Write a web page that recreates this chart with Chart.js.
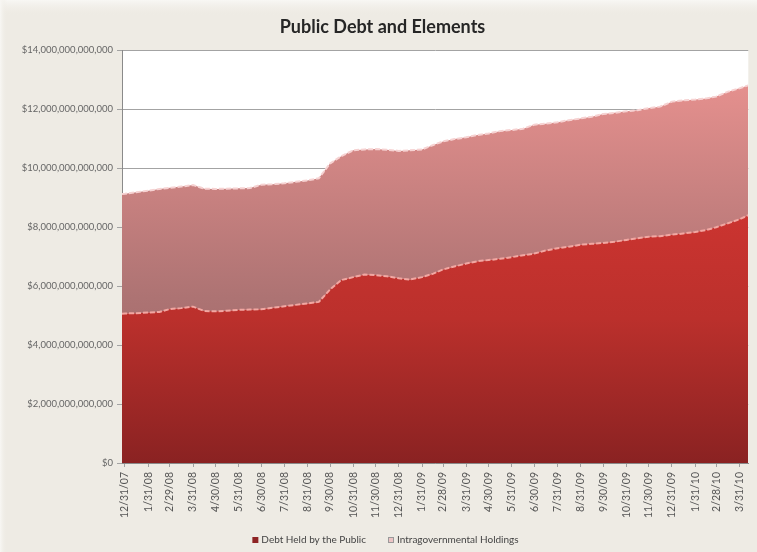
<!DOCTYPE html>
<html>
<head>
<meta charset="utf-8">
<title>Public Debt and Elements</title>
<script src="https://cdn.jsdelivr.net/npm/chart.js@4.4.1/dist/chart.umd.min.js"></script>
<style>
  html, body { margin: 0; padding: 0; background: #eeebe4; }
  canvas { display: block; }
</style>
</head>
<body>
<canvas id="debt" width="757" height="552"></canvas>
<script>
// Observation dates (semi-monthly), values in billions of dollars
const dates = [
  '2007-12-27', '2007-12-31',
  '2008-01-15', '2008-01-31', '2008-02-15', '2008-02-29', '2008-03-15', '2008-03-31',
  '2008-04-15', '2008-04-30', '2008-05-15', '2008-05-31', '2008-06-15', '2008-06-30',
  '2008-07-15', '2008-07-31', '2008-08-15', '2008-08-31', '2008-09-15', '2008-09-30',
  '2008-10-15', '2008-10-31', '2008-11-15', '2008-11-30', '2008-12-15', '2008-12-31',
  '2009-01-15', '2009-01-31', '2009-02-15', '2009-02-28', '2009-03-15', '2009-03-31',
  '2009-04-15', '2009-04-30', '2009-05-15', '2009-05-31', '2009-06-15', '2009-06-30',
  '2009-07-15', '2009-07-31', '2009-08-15', '2009-08-31', '2009-09-15', '2009-09-30',
  '2009-10-15', '2009-10-31', '2009-11-15', '2009-11-30', '2009-12-15', '2009-12-31',
  '2010-01-15', '2010-01-31', '2010-02-15', '2010-02-28', '2010-03-15', '2010-03-31',
  '2010-04-12'
];

const publicDebt = [
  5060, 5070,
  5080, 5100, 5120, 5220, 5250, 5300,
  5150, 5140, 5160, 5190, 5200, 5210,
  5260, 5310, 5360, 5410, 5460, 5880,
  6200, 6300, 6390, 6370, 6330, 6260,
  6220, 6300, 6420, 6560, 6660, 6760,
  6840, 6880, 6920, 6980, 7040, 7100,
  7200, 7280, 7330, 7400, 7430, 7460,
  7500, 7560, 7620, 7670, 7690, 7740,
  7780, 7830, 7900, 7990, 8120, 8260,
  8400
];

const intragovHoldings = [
  4060, 4060,
  4100, 4130, 4170, 4110, 4120, 4120,
  4150, 4150, 4140, 4120, 4120, 4220,
  4190, 4170, 4170, 4170, 4190, 4270,
  4200, 4300, 4240, 4270, 4290, 4320,
  4380, 4330, 4360, 4340, 4320, 4280,
  4280, 4290, 4330, 4310, 4290, 4370,
  4300, 4270, 4290, 4280, 4310, 4370,
  4370, 4360, 4340, 4360, 4390, 4510,
  4510, 4490, 4460, 4430, 4460, 4440,
  4400
];

const tickLabels = [
  '12/31/07', '1/31/08', '2/29/08', '3/31/08', '4/30/08', '5/31/08', '6/30/08',
  '7/31/08', '8/31/08', '9/30/08', '10/31/08', '11/30/08', '12/31/08', '1/31/09',
  '2/28/09', '3/31/09', '4/30/09', '5/31/09', '6/30/09', '7/31/09', '8/31/09',
  '9/30/09', '10/31/09', '11/30/09', '12/31/09', '1/31/10', '2/28/10', '3/31/10'
];

const seriesNames = ['Debt Held by the Public', 'Intragovernmental Holdings'];
const chartTitle = 'Public Debt and Elements';
const yMax = 14000;
const yStep = 2000;

// Day numbers relative to 12/31/2007 for the linear x axis
const DAY_MS = 864e5;
const BASE = Date.UTC(2007, 11, 31);
const isoToDay = s => { const [y, m, d] = s.split('-').map(Number); return (Date.UTC(y, m - 1, d) - BASE) / DAY_MS; };
const labelToDay = s => { const [m, d, y] = s.split('/').map(Number); return (Date.UTC(2000 + y, m - 1, d) - BASE) / DAY_MS; };

const xDays = dates.map(isoToDay);
const tickDays = tickLabels.map(labelToDay);

function vGradient(context, stops) {
  const chart = context.chart;
  const area = chart.chartArea;
  if (!area) return stops[0][1];
  const g = chart.ctx.createLinearGradient(0, area.top, 0, area.bottom);
  stops.forEach(([o, c]) => g.addColorStop(o, c));
  return g;
}

const frame = {
  id: 'frame',
  beforeDraw(chart) {
    const c = chart.ctx, w = chart.width, h = chart.height, a = chart.chartArea;
    c.save();
    c.fillStyle = '#eeebe4';
    c.fillRect(0, 0, w, h);
    let g = c.createLinearGradient(0, 0, 0, 16);
    g.addColorStop(0, '#f8f7f4'); g.addColorStop(1, 'rgba(238,235,228,0)');
    c.fillStyle = g; c.fillRect(0, 0, w, 16);
    g = c.createLinearGradient(0, 0, 7, 0);
    g.addColorStop(0, '#f8f7f4'); g.addColorStop(1, 'rgba(238,235,228,0)');
    c.fillStyle = g; c.fillRect(0, 0, 7, h);
    c.fillStyle = '#ffffff';
    c.fillRect(a.left, a.top, a.right - a.left, a.bottom - a.top);
    c.restore();
  },
  afterDraw(chart) {
    const c = chart.ctx;
    c.save();
    // title
    c.font = 'bold 18px Lato';
    c.fillStyle = '#262626';
    c.textAlign = 'center';
    c.textBaseline = 'middle';
    c.fillText(chartTitle, 382.5, 27);
    // legend
    c.font = '10px Lato';
    c.textAlign = 'left';
    const items = chart.data.datasets.map(ds => ({ text: ds.label, fill: ds.legendFill, stroke: ds.legendStroke }));
    const box = 6, gap = 3, spacing = 22;
    const widths = items.map(it => box + gap + c.measureText(it.text).width);
    const total = widths.reduce((s, v) => s + v, 0) + spacing * (items.length - 1);
    let x = 385.5 - total / 2;
    const y = 540;
    items.forEach((it, i) => {
      c.fillStyle = it.fill;
      c.fillRect(x, y - box / 2, box, box);
      if (it.stroke) {
        c.strokeStyle = it.stroke; c.lineWidth = 1;
        c.strokeRect(x + 0.5, y - box / 2 + 0.5, box - 1, box - 1);
      }
      c.fillStyle = '#444';
      c.fillText(it.text, x + box + gap, y);
      x += widths[i] + spacing;
    });
    c.restore();
  }
};

function start() {
  new Chart(document.getElementById('debt'), {
    type: 'line',
    data: {
      datasets: [
        {
          label: seriesNames[0],
          data: xDays.map((x, i) => ({ x, y: publicDebt[i] })),
          fill: 'origin',
          backgroundColor: ctx => vGradient(ctx, [[0, '#d63c36'], [0.4, '#cb3430'], [0.65, '#bb302c'], [1, '#8a2222']]),
          borderColor: '#f2a7a2',
          borderWidth: 2,
          borderDash: [5, 2],
          pointRadius: 0,
          tension: 0,
          legendFill: '#8e2424'
        },
        {
          label: seriesNames[1],
          data: xDays.map((x, i) => ({ x, y: intragovHoldings[i] })),
          fill: '-1',
          backgroundColor: ctx => vGradient(ctx, [[0, '#e99594'], [0.1, '#e38f8d'], [0.6, '#ad7373'], [1, '#955f5f']]),
          borderColor: '#f6d2d2',
          borderWidth: 2,
          borderDash: [5, 2],
          pointRadius: 0,
          tension: 0,
          legendFill: '#ecc4c4',
          legendStroke: '#999999'
        }
      ]
    },
    options: {
      responsive: false,
      animation: false,
      events: [],
      layout: { padding: { top: 50, right: 6, left: 0, bottom: 0 } },
      plugins: {
        legend: { display: false },
        title: { display: false },
        tooltip: { enabled: false }
      },
      scales: {
        x: {
          type: 'linear',
          min: xDays[0],
          max: xDays[xDays.length - 1],
          afterBuildTicks: s => { s.ticks = tickDays.map(v => ({ value: v })); },
          afterFit: s => { s.height = 89; },
          ticks: {
            autoSkip: false,
            minRotation: 90,
            maxRotation: 90,
            padding: 5,
            color: '#555',
            font: { family: 'Lato', size: 10.5 },
            callback: (v, i) => tickLabels[i]
          },
          grid: { drawOnChartArea: false, drawTicks: true, tickLength: 4, color: '#a0a0a0' },
          border: { display: true, color: '#8a8a8a' }
        },
        y: {
          stacked: true,
          min: 0,
          max: yMax,
          afterFit: s => { s.width = 122; },
          ticks: {
            stepSize: yStep,
            padding: 4,
            color: '#666',
            font: { family: 'Lato', size: 9.5 },
            callback: v => '$' + (v * 1e9).toLocaleString('en-US')
          },
          grid: { color: '#a3a3a3', tickLength: 5, drawTicks: true },
          border: { display: true, color: '#8a8a8a' }
        }
      }
    },
    plugins: [frame]
  });
}

if (document.fonts && document.fonts.load) {
  Promise.all([document.fonts.load('bold 18px Lato'), document.fonts.load('10px Lato')]).then(start, start);
} else {
  start();
}
</script>
</body>
</html>
